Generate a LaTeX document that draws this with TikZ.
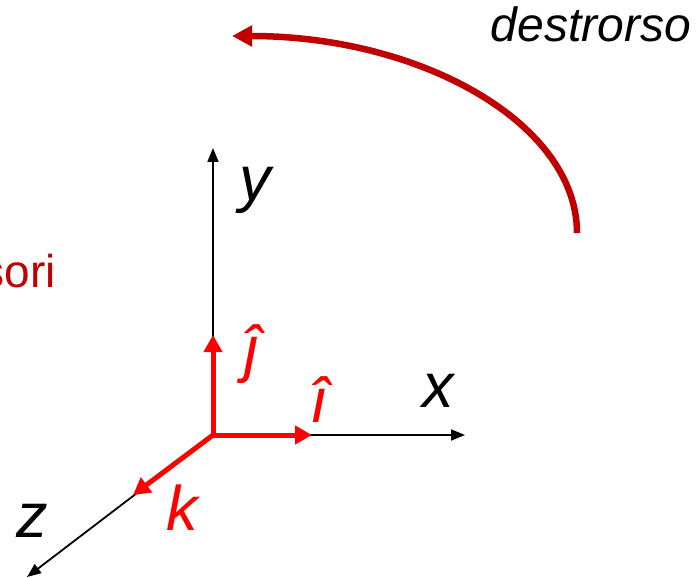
\documentclass[tikz,border=0pt]{standalone}
\usepackage{fontspec}
\setmainfont{Liberation Sans}
\usetikzlibrary{arrows.meta}
\definecolor{darkred}{HTML}{C00000}
\definecolor{brightred}{HTML}{FF0000}
\begin{document}
\begin{tikzpicture}[x=1bp,y=-1bp,
  axis/.style={line width=1.8bp,-{Triangle[length=14bp,width=11bp]}},
  vec/.style={brightred,line width=5bp,-{Triangle[length=17bp,width=18bp]}},
  rot/.style={darkred,line width=6.5bp,-{Triangle[length=20bp,width=20bp]}},
  lab/.style={inner sep=0pt,anchor=base west,font=\fontsize{63bp}{70bp}\selectfont\itshape},
  rlab/.style={lab,text=brightred}]
\useasboundingbox (0,0) rectangle (696,578);
\coordinate (O) at (213,435);
\coordinate (X) at (465,435);
\coordinate (Y) at (213,148);
\coordinate (Z) at (27,577);
\coordinate (I) at (312,435);
\coordinate (J) at (213,335);
\coordinate (K) at (133,495);
\coordinate (A) at (577,233);
\coordinate (B) at (232,36);
% axes
\draw[axis] (O) -- (X);
\draw[axis] (O) -- (Y);
\draw[axis] (O) -- (Z);
% unit vectors
\draw[vec] (O) -- (I);
\draw[vec] (O) -- (J);
\draw[vec] (O) -- (K);
% rotation arc
\draw[rot] (A) .. controls (577,124) and (422,36) .. (B);
% labels
\node[lab] (xl) at (422,407) {x};
\node[lab] (yl) at (239,201) {y};
\node[lab] (zl) at (16,537) {z};
\node[rlab] (il) at (310,422) {î};
\node[rlab] (jl) at (244,370) {ĵ};
\node[rlab] (kl) at (166,530) {k};
\node[inner sep=0pt,anchor=base east,font=\fontsize{48bp}{52bp}\selectfont\itshape] (dl) at (691,42) {destrorso};
\node[inner sep=0pt,anchor=base east,text=darkred,font=\fontsize{46bp}{50bp}\selectfont] (sl) at (56,287) {sori};
\end{tikzpicture}
\end{document}
